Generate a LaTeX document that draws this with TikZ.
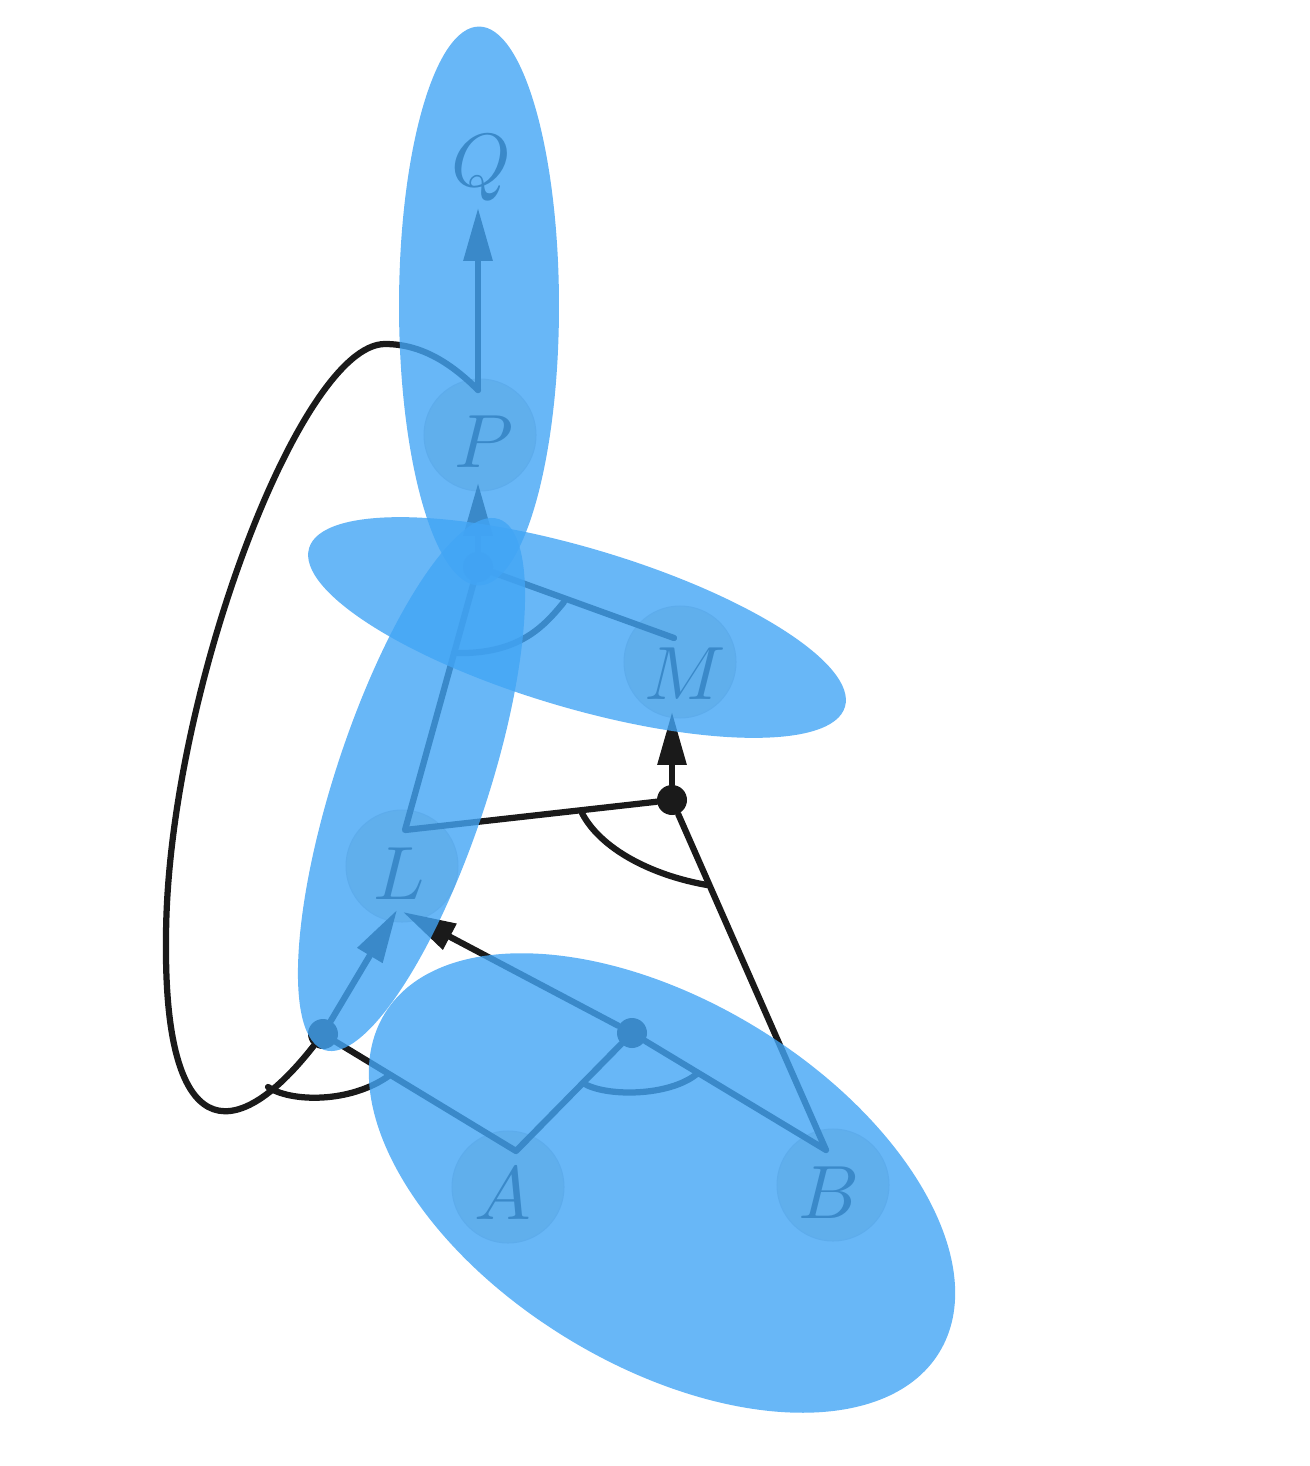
\documentclass[tikz,border=0pt]{standalone}
\usepackage{fontspec}
\newfontfamily\lmmath{latinmodern-math.otf}
\usetikzlibrary{arrows.meta}
\definecolor{blobc}{RGB}{66,165,245}
\definecolor{ink}{RGB}{26,26,26}
\definecolor{nodefill}{RGB}{216,215,200}
\begin{document}
\begin{tikzpicture}[x=0.02cm,y=-0.02cm,
  wire/.style={draw=ink,line width=0.125cm,line cap=round,line join=round},
  arr/.style={wire,-{Triangle[length=1.06cm,width=0.56cm]}},
  junction/.style={circle,fill=ink,inner sep=0pt,minimum size=0.6cm},
  obj/.style={circle,fill=nodefill,draw=black!20,line width=0.6pt,minimum size=2.24cm,inner sep=0pt},
  lbl/.style={text=ink,inner sep=0pt,font=\fontsize{43}{43}\selectfont\lmmath},
  group/.style={fill=blobc,fill opacity=0.8}]
\useasboundingbox (0,0) rectangle (1310,1466);

% object circles
\node[obj] (P) at (480,435) {};
\node[obj] (M) at (680,662) {};
\node[obj] (L) at (402,866) {};
\node[obj] (A) at (508,1187) {};
\node[obj] (B) at (833,1185) {};

% anchors
\coordinate (Pt) at (478,390);
\coordinate (Pb) at (478,483);
\coordinate (Mt) at (674,638);
\coordinate (Mb) at (672,712);
\coordinate (Lt) at (405,830);
\coordinate (Lb1) at (397,910);
\coordinate (Lb2) at (403,912);
\coordinate (At) at (516,1151);
\coordinate (Bt) at (826,1150);
\coordinate (Qb) at (478,208);

% junctions
\node[junction] (J1) at (323,1034) {};
\node[junction] (J2) at (632,1033) {};
\node[junction] (J3) at (672,800) {};
\node[junction] (J4) at (478,567) {};

% wires
\draw[wire] (J4) -- (Lt) -- (J3);
\draw[wire] (J4) -- (Mt);
\draw[wire] (J1) -- (At) -- (J2);
\draw[wire] (J2) -- (Bt) -- (J3);

% arrows
\draw[arr] (Pt) -- (Qb);
\draw[arr] (J4) -- (Pb);
\draw[arr] (J3) -- (Mb);
\draw[arr] (J1) -- (Lb1);
\draw[arr] (J2) -- (Lb2);

% loop
\draw[wire] (Pt) .. controls (452,364) and (422,344) .. (385,344)
  .. controls (300,344) and (166,700) .. (166,940)
  .. controls (164,1140) and (232,1150) .. (J1);

% angle arcs
\draw[wire] (268,1087) .. controls (290,1102) and (350,1104) .. (390,1075);
\draw[wire] (583,1083) .. controls (605,1097) and (670,1097) .. (698,1073);
\draw[wire] (582,813) .. controls (600,848) and (650,875) .. (707,885);
\draw[wire] (454,653) .. controls (520,655) and (545,625) .. (564,602);

% labels
\node[lbl] (Ql) at (481,167) {𝑄};
\node[lbl] (Pl) at (479,442) {𝑃};
\node[lbl] (Ml) at (681,674) {𝑀};
\node[lbl] (Ll) at (399,874) {𝐿};
\node[lbl] (Al) at (503,1192) {𝐴};
\node[lbl] (Bl) at (827,1193) {𝐵};

% groups
\fill[group, rotate around={-31.4:(662,1183)}] (662,1183) ellipse [x radius=6.5cm, y radius=3.64cm];
\fill[group, rotate around={71.8:(411.5,784.5)}] (411.5,784.5) ellipse [x radius=5.59cm, y radius=1.53cm];
\fill[group, rotate around={-16.5:(577,627.5)}] (577,627.5) ellipse [x radius=5.59cm, y radius=1.6cm];
\fill[group] (479,306) ellipse [x radius=1.6cm, y radius=5.59cm];
\end{tikzpicture}
\end{document}
